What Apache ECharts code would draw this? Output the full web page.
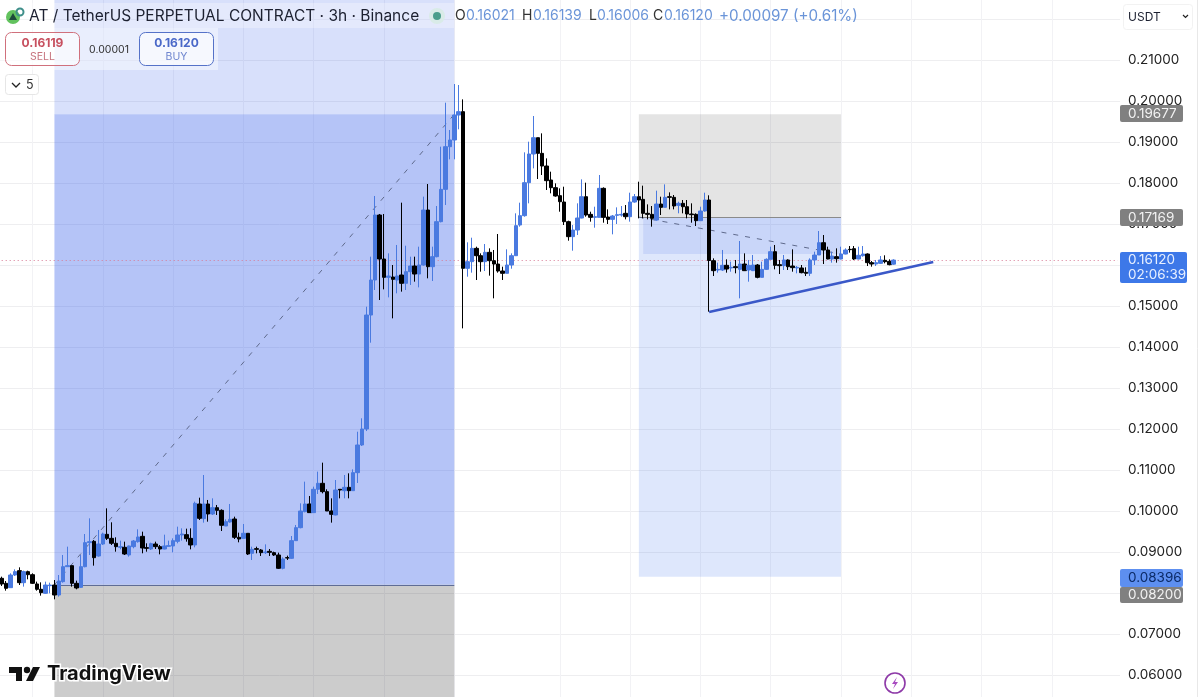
<!DOCTYPE html>
<html>
<head>
<meta charset="utf-8">
<title>AT / TetherUS</title>
<style>
  html, body { margin: 0; padding: 0; background: #fff; }
  #main { width: 1200px; height: 697px; }
</style>
<script src="https://cdn.jsdelivr.net/npm/echarts@6/dist/echarts.min.js"></script>
</head>
<body>
<div id="main"></div>
<script>
// prices, one entry per 3h candle
const opens = [
  0.08358,0.08236,0.08130,0.08439,0.08545,0.08252,0.08521,0.08447,0.08220,0.08090,
  0.07992,0.08179,0.08195,0.07951,0.08277,0.08642,0.08667,0.08236,0.08138,0.08642,
  0.09228,0.09260,0.08903,0.09195,0.09431,0.09333,0.09212,0.09114,0.09114,0.08927,
  0.09130,0.09252,0.09382,0.09106,0.09073,0.09195,0.09130,0.09073,0.09138,0.09147,
  0.09260,0.09415,0.09423,0.09333,0.09171,0.10171,0.09813,0.10171,0.09927,0.10081,
  0.10016,0.09634,0.09732,0.09805,0.09358,0.09333,0.09456,0.08968,0.09082,0.09049,
  0.08984,0.09016,0.08984,0.08927,0.08602,0.08862,0.08846,0.09277,0.09594,0.09984,
  0.10171,0.09960,0.10529,0.10675,0.10472,0.10000,0.09903,0.10529,0.10496,0.10577,
  0.10496,0.10935,0.11610,0.12000,0.14780,0.15634,0.17219,0.16146,0.15699,0.15707,
  0.15634,0.15756,0.15553,0.15837,0.15975,0.15780,0.16000,0.17341,0.15959,0.16203,
  0.17057,0.17845,0.18886,0.19049,0.19658,0.19740,0.15919,0.16081,0.16406,0.16227,
  0.16081,0.16309,0.16105,0.16024,0.15853,0.15797,0.16000,0.16227,0.16975,0.17203,
  0.18008,0.18707,0.19105,0.18723,0.18414,0.18073,0.17886,0.17691,0.17536,0.17057,
  0.16691,0.16853,0.17146,0.17666,0.17235,0.17162,0.17162,0.17870,0.17170,0.17113,
  0.17211,0.17219,0.17260,0.17178,0.17536,0.17666,0.17601,0.17260,0.17235,0.17097,
  0.17487,0.17406,0.17666,0.17650,0.17455,0.17504,0.17422,0.17244,0.17235,0.17081,
  0.17317,0.17585,0.16105,0.15878,0.15878,0.15992,0.15927,0.15959,0.15894,0.16024,
  0.15878,0.15862,0.16000,0.15699,0.15894,0.16138,0.16325,0.16008,0.15984,0.16122,
  0.15975,0.15927,0.15927,0.15821,0.15797,0.16122,0.16244,0.16544,0.16366,0.16146,
  0.16203,0.16146,0.16268,0.16382,0.16398,0.16146,0.16227,0.16268,0.16057,0.16024,
  0.16040,0.16114,0.16089,0.16021
];
const closes = [
  0.08220,0.08114,0.08439,0.08521,0.08252,0.08521,0.08447,0.08236,0.08090,0.08008,
  0.08195,0.08195,0.07951,0.08293,0.08642,0.08667,0.08236,0.08122,0.08642,0.09228,
  0.09252,0.08862,0.09195,0.09439,0.09333,0.09212,0.09130,0.09130,0.08951,0.09147,
  0.09268,0.09366,0.09098,0.09090,0.09204,0.09130,0.09073,0.09147,0.09155,0.09277,
  0.09415,0.09439,0.09325,0.09171,0.10187,0.09821,0.10171,0.09927,0.10081,0.10016,
  0.09651,0.09740,0.09797,0.09358,0.09317,0.09456,0.08951,0.09065,0.09065,0.08984,
  0.09000,0.08992,0.08927,0.08602,0.08830,0.08854,0.09277,0.09594,0.10000,0.10171,
  0.09960,0.10529,0.10675,0.10472,0.10000,0.09919,0.10512,0.10512,0.10577,0.10496,
  0.10935,0.11610,0.12000,0.14780,0.15634,0.17219,0.16146,0.15699,0.15731,0.15650,
  0.15732,0.15553,0.15837,0.15975,0.15780,0.16000,0.17341,0.15959,0.16203,0.17057,
  0.17845,0.18886,0.19049,0.19658,0.19740,0.15919,0.16081,0.16406,0.16227,0.16081,
  0.16309,0.16105,0.16024,0.15853,0.15797,0.16000,0.16227,0.16959,0.17203,0.18008,
  0.18707,0.19105,0.18723,0.18414,0.18057,0.17886,0.17683,0.17544,0.17057,0.16691,
  0.16853,0.17146,0.17666,0.17219,0.17162,0.17178,0.17870,0.17162,0.17113,0.17195,
  0.17227,0.17235,0.17178,0.17536,0.17666,0.17585,0.17260,0.17235,0.17138,0.17487,
  0.17406,0.17650,0.17650,0.17439,0.17504,0.17422,0.17244,0.17227,0.17081,0.17317,
  0.17585,0.16110,0.15862,0.15894,0.15992,0.15902,0.15943,0.15935,0.16024,0.15862,
  0.15992,0.16000,0.15699,0.15894,0.16138,0.16325,0.15992,0.15984,0.16122,0.15959,
  0.15935,0.15943,0.15813,0.15797,0.16122,0.16244,0.16544,0.16366,0.16146,0.16219,
  0.16154,0.16268,0.16366,0.16374,0.16146,0.16236,0.16268,0.16057,0.16024,0.16057,
  0.16122,0.16081,0.16008,0.16120
];
const lows = [
  0.08171,0.08057,0.08130,0.08415,0.08195,0.08155,0.08334,0.08220,0.08057,0.07935,
  0.07976,0.07992,0.07846,0.07911,0.08252,0.08642,0.08155,0.08090,0.08122,0.08626,
  0.08927,0.08667,0.08886,0.09171,0.09293,0.09171,0.09008,0.09065,0.08927,0.08886,
  0.09090,0.09228,0.08968,0.09008,0.09049,0.09073,0.08943,0.09065,0.09130,0.08992,
  0.09212,0.09277,0.09252,0.09065,0.09114,0.09781,0.09716,0.09740,0.09903,0.09903,
  0.09512,0.09634,0.09716,0.09317,0.09236,0.09333,0.08927,0.08805,0.08968,0.08903,
  0.08951,0.08903,0.08903,0.08586,0.08577,0.08805,0.08830,0.09268,0.09577,0.09968,
  0.09960,0.09960,0.10415,0.10431,0.10000,0.09716,0.09895,0.10309,0.10309,0.10309,
  0.10488,0.10683,0.11585,0.11950,0.14105,0.15390,0.15146,0.15406,0.15211,0.14699,
  0.15309,0.15350,0.15390,0.15512,0.15593,0.15455,0.15984,0.15675,0.15610,0.16187,
  0.17040,0.17463,0.18577,0.18577,0.19309,0.14455,0.15715,0.15813,0.15634,0.15837,
  0.15853,0.15740,0.15187,0.15813,0.15634,0.15797,0.15910,0.16219,0.16935,0.17178,
  0.17504,0.18357,0.18097,0.18195,0.17829,0.17748,0.17666,0.17300,0.16975,0.16593,
  0.16349,0.16731,0.17138,0.17178,0.17057,0.16910,0.17162,0.17032,0.17000,0.16748,
  0.17000,0.17178,0.17113,0.17057,0.17520,0.17138,0.17138,0.17113,0.16935,0.17081,
  0.17219,0.17406,0.17357,0.17357,0.17260,0.17260,0.17138,0.17032,0.16951,0.17081,
  0.17300,0.14862,0.15731,0.15813,0.15853,0.15813,0.15837,0.15797,0.15187,0.15853,
  0.15593,0.15853,0.15675,0.15699,0.15878,0.16138,0.15894,0.15780,0.15878,0.15878,
  0.15837,0.15797,0.15797,0.15731,0.15731,0.16000,0.16244,0.16024,0.16138,0.16057,
  0.16057,0.16138,0.16260,0.16301,0.16122,0.16138,0.16203,0.15975,0.15959,0.15975,
  0.16024,0.16040,0.15992,0.16006
];
const highs = [
  0.08399,0.08293,0.08480,0.08577,0.08626,0.08545,0.08545,0.08480,0.08277,0.08260,
  0.08277,0.08252,0.08317,0.08439,0.08927,0.09130,0.08667,0.08301,0.08927,0.09439,
  0.09821,0.09293,0.09537,0.09472,0.10065,0.09724,0.09358,0.09277,0.09252,0.09155,
  0.09293,0.09553,0.09496,0.09212,0.09228,0.09252,0.09171,0.09423,0.09277,0.09333,
  0.09618,0.09577,0.09569,0.09577,0.10228,0.10325,0.10878,0.10269,0.10309,0.10147,
  0.10041,0.09797,0.10171,0.09862,0.09472,0.09683,0.09456,0.09130,0.09130,0.09073,
  0.09187,0.09073,0.09008,0.08984,0.08870,0.08911,0.09390,0.09659,0.10187,0.10716,
  0.10366,0.10594,0.10960,0.11179,0.10529,0.10309,0.10756,0.10529,0.10878,0.10919,
  0.11016,0.11934,0.12261,0.14983,0.16203,0.17683,0.17244,0.17244,0.16284,0.16000,
  0.16488,0.17520,0.16471,0.16203,0.16203,0.16447,0.17667,0.17975,0.16447,0.17439,
  0.18886,0.19959,0.19293,0.20414,0.20390,0.20040,0.16553,0.16666,0.16447,0.16284,
  0.16512,0.16406,0.16366,0.16756,0.15959,0.16382,0.16284,0.17260,0.17520,0.18748,
  0.19008,0.19634,0.19105,0.19211,0.18601,0.18276,0.17991,0.17870,0.17910,0.17081,
  0.16975,0.17504,0.18089,0.18008,0.17300,0.17422,0.18195,0.17894,0.17357,0.17219,
  0.17406,0.17439,0.17463,0.17764,0.17731,0.18032,0.17935,0.17479,0.17439,0.17813,
  0.17666,0.17967,0.17772,0.17707,0.17544,0.17585,0.17585,0.17504,0.17260,0.17422,
  0.17764,0.17700,0.16162,0.16057,0.16366,0.16138,0.16081,0.16122,0.16585,0.16284,
  0.16122,0.16244,0.16024,0.16081,0.16162,0.16447,0.16488,0.16122,0.16244,0.16138,
  0.16382,0.15975,0.16000,0.15943,0.16162,0.16325,0.16829,0.16731,0.16447,0.16325,
  0.16406,0.16447,0.16406,0.16463,0.16463,0.16447,0.16463,0.16284,0.16097,0.16122,
  0.16219,0.16236,0.16138,0.16139
];

// 51 empty slots right of the last candle
const categories = Array.from({ length: 255 }, (_, i) => String(i));
const gridCandles = [7, 23, 39, 55, 71, 87, 103, 127, 143, 159, 175, 191, 207, 223, 239];

const lastPrice = 0.1612;
// first position tool
const longStart = 12, longEnd = 103;
const longEntry = 0.082, longTarget = 0.19677;
// second position tool
const boxStart = 145, boxInner = 146, boxEnd = 191;
const boxStop = 0.19677, boxEntry = 0.17169, boxInnerLow = 0.16268, boxTarget = 0.08396;
// trendline under the triangle
const trendFrom = [161, 0.14854], trendTo = [212, 0.16073];

const BLUE = '#4a7ae0';
const FONT = 'Inter, "Noto Sans", sans-serif';

function area(x0, y0, x1, y1, color) {
  return [{ coord: [x0, y0], itemStyle: { color: color } }, { coord: [x1, y1] }];
}
function seg(a, b, color, width, type) {
  return [
    { coord: a, lineStyle: { color: color, width: width, type: type } },
    { coord: b }
  ];
}
function txt(x, y, text, size, color, align, weight) {
  return {
    type: 'text', x: x, y: y, z: 30,
    style: {
      text: text, fontSize: size, fill: color, fontFamily: FONT,
      align: align || 'left', verticalAlign: 'middle', fontWeight: weight || 'normal'
    }
  };
}
function box(x, y, w, h, r, fill, stroke) {
  return {
    type: 'rect', z: 29,
    shape: { x: x, y: y, width: w, height: h, r: r },
    style: { fill: fill, stroke: stroke || 'none', lineWidth: 1 }
  };
}
function badge(y, h, w, fill, color, lines) {
  var out = [box(1120, y, w, h, 2, fill)];
  lines.forEach(function (t, i) {
    out.push(txt(1128, y + h * (i + 0.5) / lines.length, t, 13.5, color));
  });
  return out;
}

var graphics = [].concat(
  // legend strip behind the buttons
  [box(0, 3, 454, 25, 0, 'rgba(255,255,255,0.3)')],
  [box(0, 28, 218, 42, 0, 'rgba(255,255,255,0.45)')],
  // symbol icon
  [
    { type: 'circle', z: 29, shape: { cx: 13, cy: 17, r: 7 }, style: { fill: '#62c25e' } },
    { type: 'polygon', z: 30, shape: { points: [[13, 13], [17, 20], [9, 20]] }, style: { fill: '#1d4a3a' } },
    { type: 'circle', z: 29, shape: { cx: 20, cy: 12, r: 3.5 }, style: { fill: 'none', stroke: '#3f8f8a', lineWidth: 2 } },
    { type: 'circle', z: 29, shape: { cx: 437, cy: 16, r: 8 }, style: { fill: '#d9ebe8' } },
    { type: 'circle', z: 30, shape: { cx: 437, cy: 16, r: 4 }, style: { fill: '#4a9d8c' } }
  ],
  [txt(29, 16, 'AT / TetherUS PERPETUAL CONTRACT · 3h · Binance', 15.5, '#1c2030')],
  // ohlc legend
  [
    txt(455, 16, 'O', 14, '#333'), txt(466, 16, '0.16021', 14, '#6a94d8'),
    txt(522, 16, 'H', 14, '#333'), txt(533, 16, '0.16139', 14, '#6a94d8'),
    txt(589, 16, 'L', 14, '#333'), txt(597, 16, '0.16006', 14, '#6a94d8'),
    txt(653, 16, 'C', 14, '#333'), txt(664, 16, '0.16120', 14, '#6a94d8'),
    txt(719, 16, '+0.00097 (+0.61%)', 15.2, '#6a94d8')
  ],
  // sell / buy
  [box(5.5, 32.5, 74, 33, 6, 'rgba(255,255,255,0.6)', '#d0707c')],
  [txt(42.5, 43, '0.16119', 12, '#c7505f', 'center', 'bold'), txt(42.5, 57, 'SELL', 10.5, '#c7747e', 'center')],
  [txt(109, 49.5, '0.00001', 10.5, '#333', 'center')],
  [box(139.5, 32.5, 74, 33, 6, 'rgba(255,255,255,0.6)', '#5572c8')],
  [txt(176.5, 43, '0.16120', 12, '#4a68c8', 'center', 'bold'), txt(176.5, 57, 'BUY', 10.5, '#6f86cf', 'center')],
  // collapse button
  [box(5.5, 74.5, 33, 20, 3, '#fff', '#e6e6e6')],
  [{ type: 'polyline', z: 30, shape: { points: [[12, 83], [16, 87], [20, 83]] }, style: { fill: 'none', stroke: '#222', lineWidth: 1.3 } }],
  [txt(26, 85, '5', 12.5, '#333')],
  // currency select
  [box(1123.5, 4.5, 69, 25, 3, '#fff', '#f2f2f2')],
  [txt(1128, 17, 'USDT', 12, '#1c2030')],
  [{ type: 'polyline', z: 30, shape: { points: [[1183, 15], [1185.5, 17.5], [1188, 15]] }, style: { fill: 'none', stroke: '#222', lineWidth: 1.2 } }],
  [{ type: 'line', z: 29, shape: { x1: 1197.5, y1: 0, x2: 1197.5, y2: 697 }, style: { stroke: '#e8e8e8', lineWidth: 1 } }],
  // price badges
  badge(105, 17, 63, '#808080', '#f2f2f2', ['0.19677']),
  badge(209, 17, 63, '#808080', '#f2f2f2', ['0.17169']),
  badge(252, 31, 67, '#3d78e8', '#e8f0ff', ['0.16120', '02:06:39']),
  badge(569, 18, 63, '#5d8ff0', '#0b2a66', ['0.08396']),
  badge(587, 16, 63, '#808080', '#f2f2f2', ['0.08200']),
  // TradingView mark
  [
    { type: 'polygon', z: 30, shape: { points: [[9, 667], [22, 667], [22, 681], [16, 681], [16, 673], [9, 673]] }, style: { fill: '#111' } },
    { type: 'circle', z: 30, shape: { cx: 27, cy: 670, r: 3.2 }, style: { fill: '#111' } },
    { type: 'polygon', z: 30, shape: { points: [[33, 667], [40, 667], [33, 681], [26, 681]] }, style: { fill: '#111' } },
    {
      type: 'text', x: 47, y: 674, z: 30,
      style: {
        text: 'TradingView', fontSize: 20, fontWeight: 'bold', fontFamily: FONT,
        fill: '#111', stroke: '#fff', lineWidth: 3, verticalAlign: 'middle'
      }
    }
  ],
  // bolt button
  [
    { type: 'circle', z: 29, shape: { cx: 895, cy: 683, r: 10 }, style: { fill: '#fff', stroke: '#8e3aa8', lineWidth: 1.6 } },
    { type: 'polygon', z: 30, shape: { points: [[897, 677], [892, 684], [895, 684], [893, 689], [898, 682], [895, 682]] }, style: { fill: '#a84ac0' } }
  ]
);

var myChart = echarts.init(document.getElementById('main'), null, { renderer: 'canvas' });

var option = {
  animation: false,
  backgroundColor: '#fff',
  grid: { left: -0.5, right: 80, top: -22, height: 738, outerBoundsMode: 'none' },
  xAxis: {
    type: 'category',
    data: categories,
    boundaryGap: true,
    axisLine: { show: false },
    axisTick: { show: false },
    axisLabel: { show: false },
    splitLine: {
      show: true,
      alignWithLabel: true,
      interval: function (i) { return gridCandles.indexOf(i) >= 0; },
      lineStyle: { color: '#f2f2f5', width: 1 }
    }
  },
  yAxis: {
    type: 'value',
    position: 'right',
    min: 0.05,
    max: 0.23,
    interval: 0.01,
    axisLine: { show: false },
    axisTick: { show: false },
    axisLabel: {
      margin: 8,
      color: '#222',
      fontSize: 13.5,
      fontFamily: FONT,
      formatter: function (v) {
        // top one sits under the currency select
        if (v > 0.215 || v < 0.055) return '';
        return v.toFixed(5);
      }
    },
    splitLine: { show: true, lineStyle: { color: '#eeeef0', width: 1 } }
  },
  series: [
    {
      // shaded tools and drawn lines, under the candles
      type: 'line',
      data: [],
      silent: true,
      z: 1,
      markArea: {
        silent: true,
        z: 1,
        data: [
          area(longStart, longTarget, longEnd, 0.23, 'rgba(60,100,235,0.2)'),
          area(longStart, longEntry, longEnd, longTarget, 'rgba(60,100,235,0.38)'),
          area(longStart, 0.05, longEnd, longEntry, 'rgba(0,0,0,0.2)'),
          area(boxStart, boxEntry, boxEnd, boxStop, 'rgba(0,0,0,0.105)'),
          area(boxStart, boxTarget, boxEnd, boxEntry, 'rgba(60,110,235,0.17)'),
          area(boxInner, boxInnerLow, boxEnd, boxEntry, 'rgba(60,100,235,0.13)')
        ]
      },
      markLine: {
        silent: true,
        z: 2,
        symbol: 'none',
        label: { show: false },
        data: [
          seg([0, lastPrice], [254, lastPrice], '#d87a95', 1, [1, 3]),
          seg([longStart, longEntry], [longEnd, longEntry], '#5f6d96', 1, 'solid'),
          seg([boxStart, boxEntry], [boxEnd, boxEntry], '#8a8a8a', 1, 'solid'),
          seg([longStart, longEntry], [longEnd, longTarget], '#5f6a8c', 1, [5, 7]),
          seg([boxStart, boxEntry], [boxEnd, boxInnerLow], '#5f6a8c', 1, [5, 7]),
          seg(trendFrom, trendTo, '#3a58c8', 2.5, 'solid')
        ]
      }
    },
    {
      type: 'candlestick',
      barWidth: 4,
      z: 3,
      data: opens.map(function (o, i) { return [o, closes[i], lows[i], highs[i]]; }),
      itemStyle: {
        color: BLUE,
        color0: '#000',
        borderColor: BLUE,
        borderColor0: '#000',
        borderWidth: 1
      }
    }
  ],
  graphic: graphics
};

myChart.setOption(option);
</script>
</body>
</html>
